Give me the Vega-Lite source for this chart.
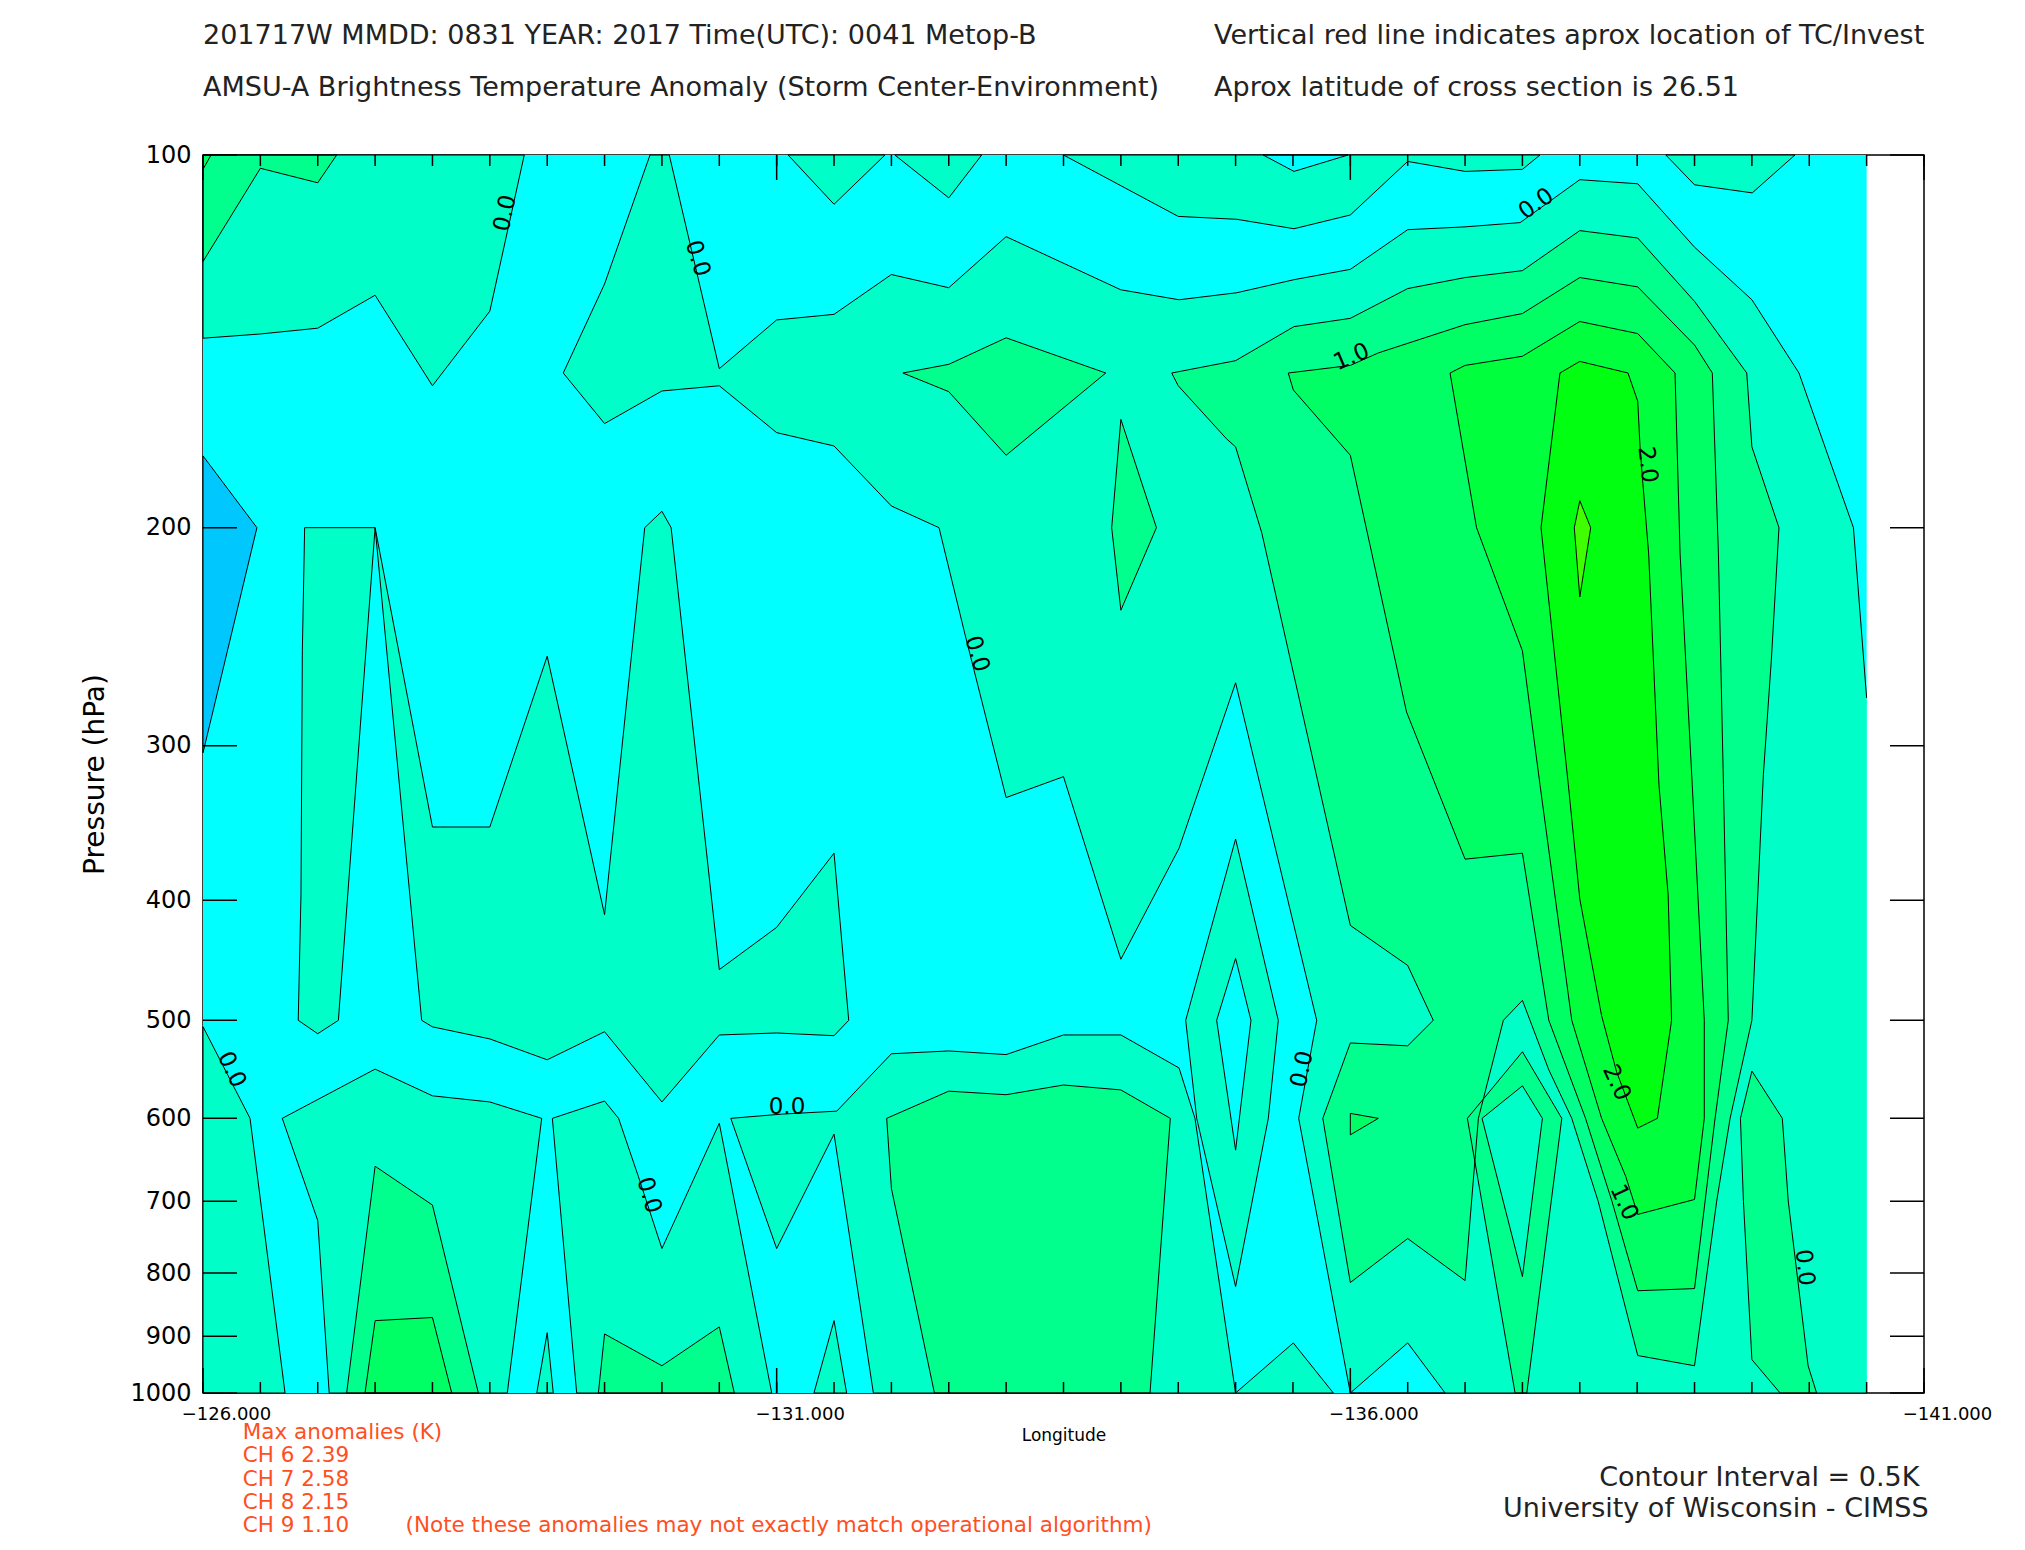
{
  "$schema": "https://vega.github.io/schema/vega-lite/v6.json",
  "width": 1721,
  "height": 1238,
  "autosize": {"type": "none"},
  "padding": {"left": 203, "top": 155, "right": 101, "bottom": 157},
  "background": "white",
  "config": {
    "view": {"stroke": "black", "strokeWidth": 1.5},
    "axis": {"grid": false, "domain": false, "tickOpacity": 0, "labelColor": "black", "titleColor": "black", "labelFont": "DejaVu Sans", "titleFont": "DejaVu Sans", "titleFontWeight": "normal"}
  },
  "datasets": {
    "xt": [
      {"lon":-126,"major":true},{"lon":-126.5,"major":false},{"lon":-127,"major":false},{"lon":-127.5,"major":false},{"lon":-128,"major":false},{"lon":-128.5,"major":false},{"lon":-129,"major":false},{"lon":-129.5,"major":false},{"lon":-130,"major":false},{"lon":-130.5,"major":false},
      {"lon":-131,"major":true},{"lon":-131.5,"major":false},{"lon":-132,"major":false},{"lon":-132.5,"major":false},{"lon":-133,"major":false},{"lon":-133.5,"major":false},{"lon":-134,"major":false},{"lon":-134.5,"major":false},{"lon":-135,"major":false},{"lon":-135.5,"major":false},
      {"lon":-136,"major":true},{"lon":-136.5,"major":false},{"lon":-137,"major":false},{"lon":-137.5,"major":false},{"lon":-138,"major":false},{"lon":-138.5,"major":false},{"lon":-139,"major":false},{"lon":-139.5,"major":false},{"lon":-140,"major":false},{"lon":-140.5,"major":false},
      {"lon":-141,"major":true}
    ],
    "yt": [{"p":100},{"p":200},{"p":300},{"p":400},{"p":500},{"p":600},{"p":700},{"p":800},{"p":900},{"p":1000}],
    "poly": [
      {"g":"p00","v":-0.5,"lon":-126,"p":100},{"g":"p00","v":-0.5,"lon":-140.5,"p":100},{"g":"p00","v":-0.5,"lon":-140.5,"p":1000},{"g":"p00","v":-0.5,"lon":-126,"p":1000},{"g":"p00","v":-0.5,"lon":-126,"p":100},
      {"g":"p01","v":-1,"lon":-126,"p":175},{"g":"p01","v":-1,"lon":-126.47,"p":200},{"g":"p01","v":-1,"lon":-126,"p":304},{"g":"p01","v":-1,"lon":-126,"p":175},
      {"g":"p02","v":0,"lon":-126,"p":100},{"g":"p02","v":0,"lon":-128.8,"p":100},{"g":"p02","v":0,"lon":-128.5,"p":133.7},{"g":"p02","v":0,"lon":-128,"p":153.6},{"g":"p02","v":0,"lon":-127.5,"p":129.8},{"g":"p02","v":0,"lon":-127,"p":138},{"g":"p02","v":0,"lon":-126.5,"p":139.5},{"g":"p02","v":0,"lon":-126,"p":140.6},{"g":"p02","v":0,"lon":-126,"p":100},
      {"g":"p03","v":0.5,"lon":-126,"p":100},{"g":"p03","v":0.5,"lon":-127.165,"p":100},{"g":"p03","v":0.5,"lon":-127,"p":105.3},{"g":"p03","v":0.5,"lon":-126.5,"p":102.5},{"g":"p03","v":0.5,"lon":-126,"p":121.9},{"g":"p03","v":0.5,"lon":-126,"p":100},
      {"g":"p04","v":1,"lon":-126,"p":100},{"g":"p04","v":1,"lon":-126.07,"p":100},{"g":"p04","v":1,"lon":-126,"p":102.7},{"g":"p04","v":1,"lon":-126,"p":100},
      {"g":"p05","v":0,"lon":-126.886,"p":200},{"g":"p05","v":0,"lon":-127.255,"p":200},{"g":"p05","v":0,"lon":-127.5,"p":200},{"g":"p05","v":0,"lon":-127.18,"p":500},{"g":"p05","v":0,"lon":-127,"p":512.6},{"g":"p05","v":0,"lon":-126.83,"p":500},{"g":"p05","v":0,"lon":-126.854,"p":396},{"g":"p05","v":0,"lon":-126.866,"p":251.5},{"g":"p05","v":0,"lon":-126.886,"p":200},
      {"g":"p06","v":0,"lon":-127.5,"p":200},{"g":"p06","v":0,"lon":-128,"p":349},{"g":"p06","v":0,"lon":-128.5,"p":349},{"g":"p06","v":0,"lon":-129,"p":254},{"g":"p06","v":0,"lon":-129.5,"p":410.8},{"g":"p06","v":0,"lon":-129.85,"p":200},{"g":"p06","v":0,"lon":-130,"p":194},{"g":"p06","v":0,"lon":-130.08,"p":200},{"g":"p06","v":0,"lon":-130.5,"p":455},{"g":"p06","v":0,"lon":-131,"p":420.6},{"g":"p06","v":0,"lon":-131.5,"p":366.4},{"g":"p06","v":0,"lon":-131.628,"p":500},{"g":"p06","v":0,"lon":-131.5,"p":514.5},{"g":"p06","v":0,"lon":-131,"p":511.9},{"g":"p06","v":0,"lon":-130.5,"p":513.8},{"g":"p06","v":0,"lon":-130,"p":582},{"g":"p06","v":0,"lon":-129.5,"p":510.7},{"g":"p06","v":0,"lon":-129,"p":538.1},{"g":"p06","v":0,"lon":-128.5,"p":517.6},{"g":"p06","v":0,"lon":-128,"p":506.1},{"g":"p06","v":0,"lon":-127.906,"p":500},{"g":"p06","v":0,"lon":-127.5,"p":200},
      {"g":"p07","v":0,"lon":-126,"p":506},{"g":"p07","v":0,"lon":-126.41,"p":600},{"g":"p07","v":0,"lon":-126.715,"p":1000},{"g":"p07","v":0,"lon":-126,"p":1000},{"g":"p07","v":0,"lon":-126,"p":506},
      {"g":"p08","v":0,"lon":-126.691,"p":600},{"g":"p08","v":0,"lon":-127.5,"p":547.5},{"g":"p08","v":0,"lon":-128,"p":575.4},{"g":"p08","v":0,"lon":-128.5,"p":582},{"g":"p08","v":0,"lon":-128.952,"p":600},{"g":"p08","v":0,"lon":-128.652,"p":1000},{"g":"p08","v":0,"lon":-127.1,"p":1000},{"g":"p08","v":0,"lon":-127,"p":725.5},{"g":"p08","v":0,"lon":-126.691,"p":600},
      {"g":"p09","v":0.5,"lon":-127.5,"p":655.9},{"g":"p09","v":0.5,"lon":-128,"p":705},{"g":"p09","v":0.5,"lon":-128.4,"p":1000},{"g":"p09","v":0.5,"lon":-127.252,"p":1000},{"g":"p09","v":0.5,"lon":-127.5,"p":655.9},
      {"g":"p10","v":1,"lon":-127.5,"p":874.1},{"g":"p10","v":1,"lon":-128,"p":869},{"g":"p10","v":1,"lon":-128.168,"p":1000},{"g":"p10","v":1,"lon":-127.412,"p":1000},{"g":"p10","v":1,"lon":-127.5,"p":874.1},
      {"g":"p11","v":0,"lon":-128.909,"p":1000},{"g":"p11","v":0,"lon":-129,"p":893.9},{"g":"p11","v":0,"lon":-129.053,"p":1000},{"g":"p11","v":0,"lon":-128.909,"p":1000},
      {"g":"p12","v":0,"lon":-129.257,"p":1000},{"g":"p12","v":0,"lon":-129.045,"p":600},{"g":"p12","v":0,"lon":-129.5,"p":581},{"g":"p12","v":0,"lon":-129.622,"p":600},{"g":"p12","v":0,"lon":-129.794,"p":668.3},{"g":"p12","v":0,"lon":-130,"p":764.4},{"g":"p12","v":0,"lon":-130.5,"p":605.5},{"g":"p12","v":0,"lon":-130.957,"p":1000},{"g":"p12","v":0,"lon":-129.257,"p":1000},
      {"g":"p13","v":0.5,"lon":-129.446,"p":1000},{"g":"p13","v":0.5,"lon":-129.5,"p":896},{"g":"p13","v":0.5,"lon":-130,"p":950.6},{"g":"p13","v":0.5,"lon":-130.5,"p":884.3},{"g":"p13","v":0.5,"lon":-130.631,"p":1000},{"g":"p13","v":0.5,"lon":-129.446,"p":1000},
      {"g":"p14","v":0,"lon":-130.6,"p":600},{"g":"p14","v":0,"lon":-131.044,"p":595.3},{"g":"p14","v":0,"lon":-131.524,"p":592},{"g":"p14","v":0,"lon":-132,"p":532.1},{"g":"p14","v":0,"lon":-132.5,"p":529.3},{"g":"p14","v":0,"lon":-133,"p":532.9},{"g":"p14","v":0,"lon":-133.5,"p":513.8},{"g":"p14","v":0,"lon":-134,"p":513.8},{"g":"p14","v":0,"lon":-134.507,"p":546.3},{"g":"p14","v":0,"lon":-134.646,"p":600},{"g":"p14","v":0,"lon":-135,"p":1000},{"g":"p14","v":0,"lon":-131.843,"p":1000},{"g":"p14","v":0,"lon":-131.5,"p":617.8},{"g":"p14","v":0,"lon":-131,"p":764.4},{"g":"p14","v":0,"lon":-130.6,"p":600},
      {"g":"p15","v":0,"lon":-131.325,"p":1000},{"g":"p15","v":0,"lon":-131.5,"p":874},{"g":"p15","v":0,"lon":-131.61,"p":1000},{"g":"p15","v":0,"lon":-131.325,"p":1000},
      {"g":"p16","v":0.5,"lon":-131.959,"p":600},{"g":"p16","v":0.5,"lon":-132.5,"p":570.4},{"g":"p16","v":0.5,"lon":-133,"p":574.2},{"g":"p16","v":0.5,"lon":-133.5,"p":563.9},{"g":"p16","v":0.5,"lon":-134,"p":569.1},{"g":"p16","v":0.5,"lon":-134.431,"p":600},{"g":"p16","v":0.5,"lon":-134.254,"p":1000},{"g":"p16","v":0.5,"lon":-132.375,"p":1000},{"g":"p16","v":0.5,"lon":-132,"p":683.5},{"g":"p16","v":0.5,"lon":-131.959,"p":600},
      {"g":"p17","v":0,"lon":-135,"p":356.9},{"g":"p17","v":0,"lon":-134.565,"p":500},{"g":"p17","v":0,"lon":-134.661,"p":600},{"g":"p17","v":0,"lon":-135,"p":820.4},{"g":"p17","v":0,"lon":-135.285,"p":600},{"g":"p17","v":0,"lon":-135.372,"p":500},{"g":"p17","v":0,"lon":-135,"p":356.9},
      {"g":"p18","v":-0.5,"lon":-135,"p":445.6},{"g":"p18","v":-0.5,"lon":-134.835,"p":500},{"g":"p18","v":-0.5,"lon":-135,"p":636.6},{"g":"p18","v":-0.5,"lon":-135.134,"p":500},{"g":"p18","v":-0.5,"lon":-135,"p":445.6},
      {"g":"p19","v":0,"lon":-135,"p":1000},{"g":"p19","v":0,"lon":-135.503,"p":911.1},{"g":"p19","v":0,"lon":-135.852,"p":1000},{"g":"p19","v":0,"lon":-135,"p":1000},
      {"g":"p20","v":0,"lon":-129.896,"p":100},{"g":"p20","v":0,"lon":-129.5,"p":127.1},{"g":"p20","v":0,"lon":-129.14,"p":150},{"g":"p20","v":0,"lon":-129.5,"p":164.8},{"g":"p20","v":0,"lon":-130,"p":155.1},{"g":"p20","v":0,"lon":-130.5,"p":153.6},{"g":"p20","v":0,"lon":-131,"p":167.6},{"g":"p20","v":0,"lon":-131.5,"p":171.8},{"g":"p20","v":0,"lon":-132,"p":192.1},{"g":"p20","v":0,"lon":-132.415,"p":200},{"g":"p20","v":0,"lon":-132.642,"p":244},{"g":"p20","v":0,"lon":-133,"p":330.4},{"g":"p20","v":0,"lon":-133.5,"p":317.8},{"g":"p20","v":0,"lon":-134,"p":446.3},{"g":"p20","v":0,"lon":-134.507,"p":363.1},{"g":"p20","v":0,"lon":-135,"p":266.9},{"g":"p20","v":0,"lon":-135.707,"p":500},{"g":"p20","v":0,"lon":-135.55,"p":600},{"g":"p20","v":0,"lon":-136,"p":1000},{"g":"p20","v":0,"lon":-140.5,"p":1000},{"g":"p20","v":0,"lon":null,"p":null},{"g":"p20","v":0,"lon":-140.5,"p":274.5},{"g":"p20","v":0,"lon":-140.385,"p":200},{"g":"p20","v":0,"lon":-139.91,"p":150},{"g":"p20","v":0,"lon":-139.5,"p":130.9},{"g":"p20","v":0,"lon":-139,"p":118.7},{"g":"p20","v":0,"lon":-138.505,"p":105.5},{"g":"p20","v":0,"lon":-138,"p":104.7},{"g":"p20","v":0,"lon":-137.48,"p":113.4},{"g":"p20","v":0,"lon":-137,"p":114.3},{"g":"p20","v":0,"lon":-136.5,"p":114.9},{"g":"p20","v":0,"lon":-136,"p":123.7},{"g":"p20","v":0,"lon":-135.509,"p":126.1},{"g":"p20","v":0,"lon":-135.01,"p":129.2},{"g":"p20","v":0,"lon":-134.507,"p":130.9},{"g":"p20","v":0,"lon":-134,"p":128.5},{"g":"p20","v":0,"lon":-133,"p":116.4},{"g":"p20","v":0,"lon":-132.5,"p":128},{"g":"p20","v":0,"lon":-132,"p":124.9},{"g":"p20","v":0,"lon":-131.5,"p":134.5},{"g":"p20","v":0,"lon":-131,"p":135.9},{"g":"p20","v":0,"lon":-130.5,"p":148.8},{"g":"p20","v":0,"lon":-130.064,"p":100},{"g":"p20","v":0,"lon":-129.896,"p":100},
      {"g":"p21","v":-0.5,"lon":-136,"p":1000},{"g":"p21","v":-0.5,"lon":-136.5,"p":911},{"g":"p21","v":-0.5,"lon":-136.826,"p":1000},{"g":"p21","v":-0.5,"lon":-136,"p":1000},
      {"g":"p22","v":0,"lon":-131.1,"p":100},{"g":"p22","v":0,"lon":-131.5,"p":109.6},{"g":"p22","v":0,"lon":-131.944,"p":100},{"g":"p22","v":0,"lon":-131.1,"p":100},
      {"g":"p23","v":0,"lon":-132.03,"p":100},{"g":"p23","v":0,"lon":-132.5,"p":108.3},{"g":"p23","v":0,"lon":-132.787,"p":100},{"g":"p23","v":0,"lon":-132.03,"p":100},
      {"g":"p24","v":0,"lon":-133.5,"p":100},{"g":"p24","v":0,"lon":-134.5,"p":112.1},{"g":"p24","v":0,"lon":-135.01,"p":112.7},{"g":"p24","v":0,"lon":-135.509,"p":114.7},{"g":"p24","v":0,"lon":-136,"p":111.8},{"g":"p24","v":0,"lon":-136.5,"p":101.2},{"g":"p24","v":0,"lon":-137,"p":103.1},{"g":"p24","v":0,"lon":-137.5,"p":102.7},{"g":"p24","v":0,"lon":-137.653,"p":100},{"g":"p24","v":0,"lon":-133.5,"p":100},
      {"g":"p25","v":-0.5,"lon":-135.24,"p":100},{"g":"p25","v":-0.5,"lon":-135.509,"p":103.1},{"g":"p25","v":-0.5,"lon":-135.98,"p":100},{"g":"p25","v":-0.5,"lon":-135.24,"p":100},
      {"g":"p26","v":0,"lon":-138.75,"p":100},{"g":"p26","v":0,"lon":-139,"p":105.7},{"g":"p26","v":0,"lon":-139.503,"p":107.3},{"g":"p26","v":0,"lon":-139.875,"p":100},{"g":"p26","v":0,"lon":-138.75,"p":100},
      {"g":"p27","v":0.5,"lon":-132.1,"p":150},{"g":"p27","v":0.5,"lon":-132.5,"p":147.6},{"g":"p27","v":0.5,"lon":-133,"p":140.5},{"g":"p27","v":0.5,"lon":-133.868,"p":150},{"g":"p27","v":0.5,"lon":-133,"p":174.8},{"g":"p27","v":0.5,"lon":-132.5,"p":155.3},{"g":"p27","v":0.5,"lon":-132.1,"p":150},
      {"g":"p28","v":0.5,"lon":-134,"p":163.5},{"g":"p28","v":0.5,"lon":-134.31,"p":200},{"g":"p28","v":0.5,"lon":-134,"p":233.2},{"g":"p28","v":0.5,"lon":-133.92,"p":200},{"g":"p28","v":0.5,"lon":-134,"p":163.5},
      {"g":"p29","v":0.5,"lon":-134.443,"p":150},{"g":"p29","v":0.5,"lon":-135,"p":146.6},{"g":"p29","v":0.5,"lon":-135.509,"p":137.6},{"g":"p29","v":0.5,"lon":-136,"p":135.5},{"g":"p29","v":0.5,"lon":-136.5,"p":128.2},{"g":"p29","v":0.5,"lon":-137,"p":125.6},{"g":"p29","v":0.5,"lon":-137.5,"p":124},{"g":"p29","v":0.5,"lon":-138,"p":115.1},{"g":"p29","v":0.5,"lon":-138.505,"p":116.7},{"g":"p29","v":0.5,"lon":-139,"p":131.3},{"g":"p29","v":0.5,"lon":-139.455,"p":150},{"g":"p29","v":0.5,"lon":-139.5,"p":172.1},{"g":"p29","v":0.5,"lon":-139.736,"p":200},{"g":"p29","v":0.5,"lon":-139.67,"p":255.4},{"g":"p29","v":0.5,"lon":-139.6,"p":316.6},{"g":"p29","v":0.5,"lon":-139.5,"p":500},{"g":"p29","v":0.5,"lon":-139.31,"p":600},{"g":"p29","v":0.5,"lon":-139.193,"p":700},{"g":"p29","v":0.5,"lon":-139,"p":950.6},{"g":"p29","v":0.5,"lon":-138.505,"p":932.7},{"g":"p29","v":0.5,"lon":-138.16,"p":700},{"g":"p29","v":0.5,"lon":-137.93,"p":600},{"g":"p29","v":0.5,"lon":-137.73,"p":548.3},{"g":"p29","v":0.5,"lon":-137.5,"p":481.8},{"g":"p29","v":0.5,"lon":-137.334,"p":500},{"g":"p29","v":0.5,"lon":-137.116,"p":600},{"g":"p29","v":0.5,"lon":-137,"p":811.3},{"g":"p29","v":0.5,"lon":-136.5,"p":750.3},{"g":"p29","v":0.5,"lon":-136,"p":814.3},{"g":"p29","v":0.5,"lon":-135.76,"p":600},{"g":"p29","v":0.5,"lon":-136,"p":521.5},{"g":"p29","v":0.5,"lon":-136.5,"p":524.3},{"g":"p29","v":0.5,"lon":-136.723,"p":500},{"g":"p29","v":0.5,"lon":-136.5,"p":451.5},{"g":"p29","v":0.5,"lon":-136,"p":419.1},{"g":"p29","v":0.5,"lon":-135.228,"p":201.9},{"g":"p29","v":0.5,"lon":-135,"p":172.1},{"g":"p29","v":0.5,"lon":-134.92,"p":169.5},{"g":"p29","v":0.5,"lon":-134.5,"p":153.6},{"g":"p29","v":0.5,"lon":-134.443,"p":150},
      {"g":"p30","v":0.5,"lon":-137.02,"p":600},{"g":"p30","v":0.5,"lon":-137.5,"p":530.1},{"g":"p30","v":0.5,"lon":-137.843,"p":600},{"g":"p30","v":0.5,"lon":-137.538,"p":1000},{"g":"p30","v":0.5,"lon":-137.436,"p":1000},{"g":"p30","v":0.5,"lon":-137.02,"p":600},
      {"g":"p31","v":0,"lon":-137.148,"p":600},{"g":"p31","v":0,"lon":-137.5,"p":564.8},{"g":"p31","v":0,"lon":-137.674,"p":600},{"g":"p31","v":0,"lon":-137.5,"p":805.3},{"g":"p31","v":0,"lon":-137.148,"p":600},
      {"g":"p32","v":0.5,"lon":-139.4,"p":600},{"g":"p32","v":0.5,"lon":-139.5,"p":549.5},{"g":"p32","v":0.5,"lon":-139.765,"p":600},{"g":"p32","v":0.5,"lon":-139.817,"p":700},{"g":"p32","v":0.5,"lon":-139.99,"p":950.6},{"g":"p32","v":0.5,"lon":-140.064,"p":1000},{"g":"p32","v":0.5,"lon":-139.746,"p":1000},{"g":"p32","v":0.5,"lon":-139.5,"p":939.8},{"g":"p32","v":0.5,"lon":-139.426,"p":700},{"g":"p32","v":0.5,"lon":-139.4,"p":600},
      {"g":"p33","v":1,"lon":-136,"p":594.5},{"g":"p33","v":1,"lon":-136.244,"p":600},{"g":"p33","v":1,"lon":-136,"p":618.7},{"g":"p33","v":1,"lon":-136,"p":594.5},
      {"g":"p34","v":1,"lon":-135.459,"p":150},{"g":"p34","v":1,"lon":-136,"p":147.9},{"g":"p34","v":1,"lon":-136.244,"p":144.5},{"g":"p34","v":1,"lon":-137,"p":137.1},{"g":"p34","v":1,"lon":-137.5,"p":134.3},{"g":"p34","v":1,"lon":-138,"p":125.6},{"g":"p34","v":1,"lon":-138.505,"p":127.8},{"g":"p34","v":1,"lon":-139,"p":142.4},{"g":"p34","v":1,"lon":-139.155,"p":150},{"g":"p34","v":1,"lon":-139.208,"p":209.7},{"g":"p34","v":1,"lon":-139.252,"p":322.6},{"g":"p34","v":1,"lon":-139.294,"p":500},{"g":"p34","v":1,"lon":-139.179,"p":600},{"g":"p34","v":1,"lon":-139.092,"p":700},{"g":"p34","v":1,"lon":-139,"p":823.5},{"g":"p34","v":1,"lon":-138.505,"p":826.8},{"g":"p34","v":1,"lon":-138.28,"p":700},{"g":"p34","v":1,"lon":-138.05,"p":600},{"g":"p34","v":1,"lon":-137.73,"p":500},{"g":"p34","v":1,"lon":-137.5,"p":366.4},{"g":"p34","v":1,"lon":-137,"p":370.5},{"g":"p34","v":1,"lon":-136.49,"p":281.8},{"g":"p34","v":1,"lon":-136,"p":174.8},{"g":"p34","v":1,"lon":-135.503,"p":154.8},{"g":"p34","v":1,"lon":-135.459,"p":150},
      {"g":"p35","v":1.5,"lon":-136.869,"p":150},{"g":"p35","v":1.5,"lon":-137,"p":147.9},{"g":"p35","v":1.5,"lon":-137.5,"p":145.4},{"g":"p35","v":1.5,"lon":-138,"p":136.3},{"g":"p35","v":1.5,"lon":-138.505,"p":139.4},{"g":"p35","v":1.5,"lon":-138.83,"p":150},{"g":"p35","v":1.5,"lon":-138.874,"p":209.7},{"g":"p35","v":1.5,"lon":-138.98,"p":322.6},{"g":"p35","v":1.5,"lon":-139.085,"p":500},{"g":"p35","v":1.5,"lon":-139.085,"p":600},{"g":"p35","v":1.5,"lon":-139,"p":697.7},{"g":"p35","v":1.5,"lon":-138.505,"p":717.4},{"g":"p35","v":1.5,"lon":-138.4,"p":668.3},{"g":"p35","v":1.5,"lon":-138.19,"p":600},{"g":"p35","v":1.5,"lon":-137.93,"p":500},{"g":"p35","v":1.5,"lon":-137.653,"p":322.6},{"g":"p35","v":1.5,"lon":-137.5,"p":251.5},{"g":"p35","v":1.5,"lon":-137.1,"p":200},{"g":"p35","v":1.5,"lon":-136.869,"p":150},
      {"g":"p36","v":2,"lon":-137.827,"p":150},{"g":"p36","v":2,"lon":-138,"p":146.8},{"g":"p36","v":2,"lon":-138.42,"p":150},{"g":"p36","v":2,"lon":-138.505,"p":158.1},{"g":"p36","v":2,"lon":-138.525,"p":172.1},{"g":"p36","v":2,"lon":-138.55,"p":184.3},{"g":"p36","v":2,"lon":-138.6,"p":209.7},{"g":"p36","v":2,"lon":-138.69,"p":322.6},{"g":"p36","v":2,"lon":-138.77,"p":396},{"g":"p36","v":2,"lon":-138.8,"p":500},{"g":"p36","v":2,"lon":-138.676,"p":600},{"g":"p36","v":2,"lon":-138.505,"p":611},{"g":"p36","v":2,"lon":-138.32,"p":550},{"g":"p36","v":2,"lon":-138.19,"p":495.7},{"g":"p36","v":2,"lon":-138,"p":399},{"g":"p36","v":2,"lon":-137.9,"p":322.6},{"g":"p36","v":2,"lon":-137.662,"p":200},{"g":"p36","v":2,"lon":-137.827,"p":150},
      {"g":"p37","v":2.5,"lon":-138,"p":190.2},{"g":"p37","v":2.5,"lon":-138.095,"p":200},{"g":"p37","v":2.5,"lon":-138,"p":227.5},{"g":"p37","v":2.5,"lon":-137.952,"p":200},{"g":"p37","v":2.5,"lon":-138,"p":190.2}
    ]
  },
  "layer": [
    {
      "data": {"name": "poly"},
      "transform": [{"filter": "isValid(datum.p)"}],
      "mark": {"type": "line", "filled": true, "strokeWidth": 0},
      "encoding": {
        "x": {"field": "lon", "type": "quantitative", "scale": {"domain": [-141, -126], "reverse": true, "nice": false, "zero": false}, "axis": null},
        "y": {"field": "p", "type": "quantitative", "scale": {"type": "log", "domain": [100, 1000], "reverse": true, "nice": false},
              "axis": {"orient": "left", "values": [100,200,300,400,500,600,700,800,900,1000], "format": "d", "tickSize": -34, "labelFontSize": 24, "labelPadding": 46, "labelOverlap": false, "title": "Pressure (hPa)", "titleFontSize": 28, "titlePadding": 20}},
        "color": {"field": "v", "type": "ordinal", "scale": {"domain": [-1, -0.5, 0, 0.5, 1, 1.5, 2, 2.5], "range": ["#00c8ff", "#00ffff", "#00ffc8", "#00ff8c", "#00ff64", "#00ff3c", "#00ff10", "#40ff00"]}, "legend": null},
        "detail": {"field": "g"},
        "order": {"value": null}
      }
    },
    {
      "data": {"name": "poly"},
      "transform": [{"filter": "datum.g != 'p00'"}],
      "mark": {"type": "line", "stroke": "black", "strokeWidth": 1, "strokeJoin": "bevel", "invalid": "break-paths-filter-domains"},
      "encoding": {
        "x": {"field": "lon", "type": "quantitative", "scale": {"domain": [-141, -126], "reverse": true, "nice": false, "zero": false},
              "axis": {"orient": "bottom", "values": [-126, -131, -136, -141], "format": ".3f", "tickSize": -25, "labelFontSize": 18, "labelPadding": 37, "labelOffset": 23, "labelFlush": false, "title": "Longitude", "titleFontSize": 17, "titlePadding": 4}},
        "y": {"field": "p", "type": "quantitative", "scale": {"type": "log", "domain": [100, 1000], "reverse": true, "nice": false}, "axis": null},
        "detail": {"field": "g"},
        "order": {"value": null}
      }
    },
    {
      "data": {"values": [
        {"t": "201717W  MMDD: 0831 YEAR: 2017 Time(UTC): 0041 Metop-B", "lon": -126, "p": 80.16},
        {"t": "AMSU-A Brightness Temperature Anomaly (Storm Center-Environment)", "lon": -126, "p": 88.29}
      ]},
      "mark": {"type": "text", "align": "left", "baseline": "middle", "font": "DejaVu Sans", "fontSize": 27, "color": "#222222"},
      "encoding": {
        "x": {"field": "lon", "type": "quantitative", "scale": {"domain": [-141, -126], "reverse": true, "nice": false, "zero": false}, "axis": null},
        "y": {"field": "p", "type": "quantitative", "scale": {"type": "log", "domain": [100, 1000], "reverse": true, "nice": false}, "axis": null},
        "text": {"field": "t"}
      }
    },
    {
      "data": {"values": [
        {"t": "Vertical red line indicates aprox location of TC/Invest", "lon": -134.812, "p": 80.16},
        {"t": "Aprox latitude of cross section is 26.51", "lon": -134.812, "p": 88.29}
      ]},
      "mark": {"type": "text", "align": "left", "baseline": "middle", "font": "DejaVu Sans", "fontSize": 27, "color": "#222222"},
      "encoding": {
        "x": {"field": "lon", "type": "quantitative", "scale": {"domain": [-141, -126], "reverse": true, "nice": false, "zero": false}, "axis": null},
        "y": {"field": "p", "type": "quantitative", "scale": {"type": "log", "domain": [100, 1000], "reverse": true, "nice": false}, "axis": null},
        "text": {"field": "t"}
      }
    },
    {
      "data": {"values": [
        {"t": "Max anomalies (K)", "lon": -126.347, "p": 1077.5},
        {"t": "CH 6  2.39", "lon": -126.347, "p": 1124.8},
        {"t": "CH 7  2.58", "lon": -126.347, "p": 1174.8},
        {"t": "CH 8  2.15", "lon": -126.347, "p": 1226.5},
        {"t": "CH 9  1.10", "lon": -126.347, "p": 1280},
        {"t": "(Note these anomalies may not exactly match operational algorithm)", "lon": -127.765, "p": 1280}
      ]},
      "mark": {"type": "text", "align": "left", "baseline": "middle", "font": "DejaVu Sans", "fontSize": 21.5, "color": "#ff4f1f"},
      "encoding": {
        "x": {"field": "lon", "type": "quantitative", "scale": {"domain": [-141, -126], "reverse": true, "nice": false, "zero": false}, "axis": null},
        "y": {"field": "p", "type": "quantitative", "scale": {"type": "log", "domain": [100, 1000], "reverse": true, "nice": false}, "axis": null},
        "text": {"field": "t"}
      }
    },
    {
      "data": {"values": [
        {"t": "Contour Interval = 0.5K", "lon": -140.96, "p": 1172},
        {"t": "University of Wisconsin - CIMSS", "lon": -141.04, "p": 1241.5}
      ]},
      "mark": {"type": "text", "align": "right", "baseline": "middle", "font": "DejaVu Sans", "fontSize": 27, "color": "#222222"},
      "encoding": {
        "x": {"field": "lon", "type": "quantitative", "scale": {"domain": [-141, -126], "reverse": true, "nice": false, "zero": false}, "axis": null},
        "y": {"field": "p", "type": "quantitative", "scale": {"type": "log", "domain": [100, 1000], "reverse": true, "nice": false}, "axis": null},
        "text": {"field": "t"}
      }
    },
    {
      "data": {"values": [
        {"t": "0.0", "lon": -128.633, "p": 111.4},
        {"t": "0.0", "lon": -135.58, "p": 547.6}
      ]},
      "mark": {"type": "text", "align": "center", "baseline": "middle", "font": "DejaVu Sans", "fontSize": 23, "color": "black", "angle": -78},
      "encoding": {
        "x": {"field": "lon", "type": "quantitative", "scale": {"domain": [-141, -126], "reverse": true, "nice": false, "zero": false}, "axis": null},
        "y": {"field": "p", "type": "quantitative", "scale": {"type": "log", "domain": [100, 1000], "reverse": true, "nice": false}, "axis": null},
        "text": {"field": "t"}
      }
    },
    {
      "data": {"values": [
        {"t": "0.0", "lon": -130.31, "p": 121.2},
        {"t": "0.0", "lon": -132.746, "p": 252.9},
        {"t": "0.0", "lon": -129.887, "p": 692.3}
      ]},
      "mark": {"type": "text", "align": "center", "baseline": "middle", "font": "DejaVu Sans", "fontSize": 23, "color": "black", "angle": 73},
      "encoding": {
        "x": {"field": "lon", "type": "quantitative", "scale": {"domain": [-141, -126], "reverse": true, "nice": false, "zero": false}, "axis": null},
        "y": {"field": "p", "type": "quantitative", "scale": {"type": "log", "domain": [100, 1000], "reverse": true, "nice": false}, "axis": null},
        "text": {"field": "t"}
      }
    },
    {
      "data": {"values": [
        {"t": "0.0", "lon": -137.62, "p": 109.5}
      ]},
      "mark": {"type": "text", "align": "center", "baseline": "middle", "font": "DejaVu Sans", "fontSize": 23, "color": "black", "angle": -35},
      "encoding": {
        "x": {"field": "lon", "type": "quantitative", "scale": {"domain": [-141, -126], "reverse": true, "nice": false, "zero": false}, "axis": null},
        "y": {"field": "p", "type": "quantitative", "scale": {"type": "log", "domain": [100, 1000], "reverse": true, "nice": false}, "axis": null},
        "text": {"field": "t"}
      }
    },
    {
      "data": {"values": [
        {"t": "1.0", "lon": -136.01, "p": 145.6}
      ]},
      "mark": {"type": "text", "align": "center", "baseline": "middle", "font": "DejaVu Sans", "fontSize": 23, "color": "black", "angle": -23},
      "encoding": {
        "x": {"field": "lon", "type": "quantitative", "scale": {"domain": [-141, -126], "reverse": true, "nice": false, "zero": false}, "axis": null},
        "y": {"field": "p", "type": "quantitative", "scale": {"type": "log", "domain": [100, 1000], "reverse": true, "nice": false}, "axis": null},
        "text": {"field": "t"}
      }
    },
    {
      "data": {"values": [
        {"t": "2.0", "lon": -138.59, "p": 177.9},
        {"t": "0.0", "lon": -139.96, "p": 791.9}
      ]},
      "mark": {"type": "text", "align": "center", "baseline": "middle", "font": "DejaVu Sans", "fontSize": 23, "color": "black", "angle": 84},
      "encoding": {
        "x": {"field": "lon", "type": "quantitative", "scale": {"domain": [-141, -126], "reverse": true, "nice": false, "zero": false}, "axis": null},
        "y": {"field": "p", "type": "quantitative", "scale": {"type": "log", "domain": [100, 1000], "reverse": true, "nice": false}, "axis": null},
        "text": {"field": "t"}
      }
    },
    {
      "data": {"values": [
        {"t": "0.0", "lon": -126.25, "p": 548},
        {"t": "2.0", "lon": -138.32, "p": 561.5},
        {"t": "1.0", "lon": -138.386, "p": 701.5}
      ]},
      "mark": {"type": "text", "align": "center", "baseline": "middle", "font": "DejaVu Sans", "fontSize": 23, "color": "black", "angle": 65},
      "encoding": {
        "x": {"field": "lon", "type": "quantitative", "scale": {"domain": [-141, -126], "reverse": true, "nice": false, "zero": false}, "axis": null},
        "y": {"field": "p", "type": "quantitative", "scale": {"type": "log", "domain": [100, 1000], "reverse": true, "nice": false}, "axis": null},
        "text": {"field": "t"}
      }
    },
    {
      "data": {"values": [
        {"t": "0.0", "lon": -131.09, "p": 587.6}
      ]},
      "mark": {"type": "text", "align": "center", "baseline": "middle", "font": "DejaVu Sans", "fontSize": 23, "color": "black"},
      "encoding": {
        "x": {"field": "lon", "type": "quantitative", "scale": {"domain": [-141, -126], "reverse": true, "nice": false, "zero": false}, "axis": null},
        "y": {"field": "p", "type": "quantitative", "scale": {"type": "log", "domain": [100, 1000], "reverse": true, "nice": false}, "axis": null},
        "text": {"field": "t"}
      }
    },
    {
      "data": {"name": "xt"},
      "mark": {"type": "rule", "color": "black", "strokeWidth": 1.5},
      "encoding": {
        "x": {"field": "lon", "type": "quantitative", "scale": {"domain": [-141, -126], "reverse": true, "nice": false, "zero": false}, "axis": null},
        "y": {"datum": 1000, "type": "quantitative", "scale": {"type": "log", "domain": [100, 1000], "reverse": true, "nice": false}, "axis": null},
        "y2": {"datum": 979.76}
      }
    },
    {
      "data": {"name": "xt"},
      "mark": {"type": "rule", "color": "black", "strokeWidth": 1.5},
      "encoding": {
        "x": {"field": "lon", "type": "quantitative", "scale": {"domain": [-141, -126], "reverse": true, "nice": false, "zero": false}, "axis": null},
        "y": {"datum": 100, "type": "quantitative", "scale": {"type": "log", "domain": [100, 1000], "reverse": true, "nice": false}, "axis": null},
        "y2": {"datum": 102.07}
      }
    },
    {
      "data": {"name": "xt"},
      "transform": [{"filter": "datum.major"}],
      "mark": {"type": "rule", "color": "black", "strokeWidth": 1.5},
      "encoding": {
        "x": {"field": "lon", "type": "quantitative", "scale": {"domain": [-141, -126], "reverse": true, "nice": false, "zero": false}, "axis": null},
        "y": {"datum": 1000, "type": "quantitative", "scale": {"type": "log", "domain": [100, 1000], "reverse": true, "nice": false}, "axis": null},
        "y2": {"datum": 954.5}
      }
    },
    {
      "data": {"name": "xt"},
      "transform": [{"filter": "datum.major"}],
      "mark": {"type": "rule", "color": "black", "strokeWidth": 1.5},
      "encoding": {
        "x": {"field": "lon", "type": "quantitative", "scale": {"domain": [-141, -126], "reverse": true, "nice": false, "zero": false}, "axis": null},
        "y": {"datum": 100, "type": "quantitative", "scale": {"type": "log", "domain": [100, 1000], "reverse": true, "nice": false}, "axis": null},
        "y2": {"datum": 104.76}
      }
    },
    {
      "data": {"name": "yt"},
      "mark": {"type": "rule", "color": "black", "strokeWidth": 1.5},
      "encoding": {
        "y": {"field": "p", "type": "quantitative", "scale": {"type": "log", "domain": [100, 1000], "reverse": true, "nice": false}, "axis": null},
        "x": {"datum": -126, "type": "quantitative", "scale": {"domain": [-141, -126], "reverse": true, "nice": false, "zero": false}, "axis": null},
        "x2": {"datum": -126.2963}
      }
    },
    {
      "data": {"name": "yt"},
      "mark": {"type": "rule", "color": "black", "strokeWidth": 1.5},
      "encoding": {
        "y": {"field": "p", "type": "quantitative", "scale": {"type": "log", "domain": [100, 1000], "reverse": true, "nice": false}, "axis": null},
        "x": {"datum": -141, "type": "quantitative", "scale": {"domain": [-141, -126], "reverse": true, "nice": false, "zero": false}, "axis": null},
        "x2": {"datum": -140.7037}
      }
    }
  ],
  "resolve": {"axis": {"x": "independent", "y": "independent"}}
}
